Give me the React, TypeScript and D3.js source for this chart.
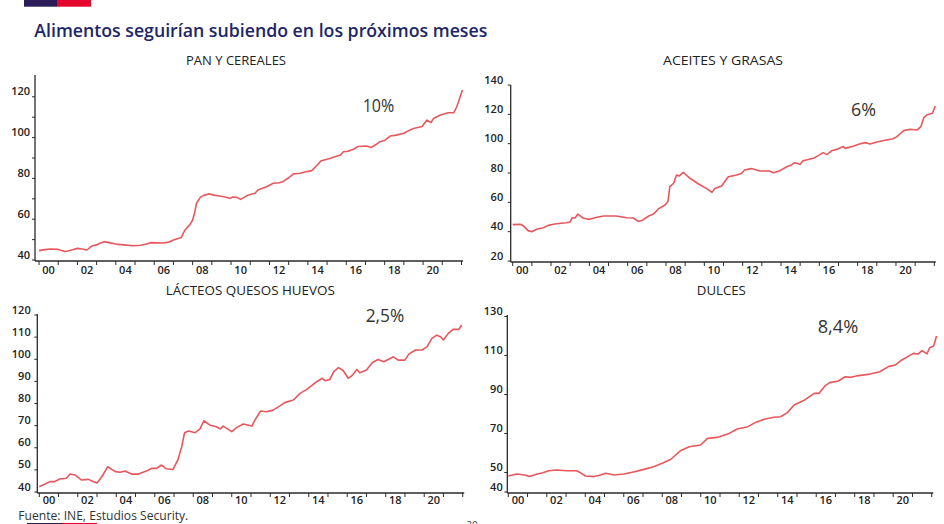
import React from "react";
import * as d3 from "d3";

const chartTitle = "Alimentos seguirían subiendo en los próximos meses";
const sourceText = "Fuente: INE, Estudios Security.";
const yearLabels = ["00", "02", "04", "06", "08", "10", "12", "14", "16", "18", "20"];

const panCereales: [number, number][] = [
  [2000.0, 44.6], [2000.3, 45.1], [2000.6, 45.4], [2001.0, 45.2], [2001.35, 44.2], [2001.5, 44.4],
  [2001.75, 45.0], [2002.0, 45.7], [2002.25, 45.4], [2002.5, 44.9], [2002.75, 46.9], [2003.0, 47.4],
  [2003.2, 48.3], [2003.4, 49.0], [2003.7, 48.4], [2004.0, 47.8], [2004.4, 47.4], [2004.9, 47.0],
  [2005.3, 47.2], [2005.6, 47.8], [2005.8, 48.5], [2006.5, 48.3], [2006.8, 48.9], [2007.0, 49.8],
  [2007.4, 51.0], [2007.6, 54.7], [2007.85, 57.2], [2008.0, 59.6], [2008.1, 63.0], [2008.2, 67.8],
  [2008.4, 70.7], [2008.6, 71.8], [2008.9, 72.4], [2009.1, 71.8], [2009.4, 71.4], [2009.7, 70.9],
  [2009.95, 70.2], [2010.1, 70.9], [2010.3, 70.7], [2010.5, 69.7], [2010.7, 70.8], [2010.9, 71.9],
  [2011.25, 72.7], [2011.4, 74.3], [2011.6, 75.0], [2011.85, 75.9], [2012.2, 77.6], [2012.5, 77.9],
  [2012.7, 78.4], [2013.0, 80.3], [2013.25, 82.2], [2013.6, 82.5], [2013.9, 83.3], [2014.2, 83.8],
  [2014.45, 86.2], [2014.7, 88.7], [2015.15, 89.8], [2015.4, 90.6], [2015.7, 91.5], [2015.85, 93.1],
  [2016.1, 93.3], [2016.4, 94.4], [2016.6, 95.6], [2017.05, 95.9], [2017.3, 95.2], [2017.55, 96.6],
  [2017.75, 98.0], [2018.0, 98.6], [2018.3, 100.8], [2018.6, 101.2], [2019.0, 102.1], [2019.25, 103.4],
  [2019.5, 104.5], [2019.95, 105.4], [2020.2, 108.6], [2020.4, 107.3], [2020.55, 109.4], [2020.9, 111.1],
  [2021.3, 112.2], [2021.6, 112.2], [2021.75, 115.0], [2021.9, 119.2], [2022.05, 123.3],
];

const aceitesGrasas: [number, number][] = [
  [2000.0, 44.8], [2000.4, 45.0], [2000.55, 44.1], [2000.8, 40.7], [2001.0, 40.0], [2001.25, 41.6],
  [2001.6, 42.7], [2001.85, 44.3], [2002.2, 45.2], [2002.65, 45.9], [2002.8, 46.1], [2003.0, 46.6],
  [2003.1, 49.5], [2003.25, 49.3], [2003.4, 52.0], [2003.7, 49.1], [2004.0, 48.4], [2004.4, 49.8],
  [2004.75, 50.7], [2005.4, 50.7], [2005.95, 49.5], [2006.3, 49.3], [2006.55, 47.0], [2006.8, 48.0],
  [2007.1, 50.7], [2007.35, 52.0], [2007.6, 55.5], [2007.95, 58.2], [2008.1, 60.5], [2008.2, 70.7],
  [2008.4, 73.0], [2008.55, 78.6], [2008.7, 78.0], [2008.9, 80.5], [2009.25, 76.4], [2009.7, 72.5],
  [2010.1, 69.5], [2010.4, 66.8], [2010.55, 69.5], [2010.9, 71.1], [2011.25, 77.5], [2011.7, 78.6],
  [2011.95, 79.8], [2012.1, 82.0], [2012.45, 83.0], [2012.9, 81.4], [2013.4, 81.4], [2013.6, 80.2],
  [2013.95, 81.6], [2014.3, 84.3], [2014.55, 85.5], [2014.7, 87.0], [2015.0, 85.9], [2015.15, 88.4],
  [2015.7, 90.0], [2016.05, 92.7], [2016.2, 93.9], [2016.4, 92.5], [2016.65, 95.2], [2016.9, 96.1],
  [2017.25, 98.0], [2017.35, 96.8], [2017.8, 98.4], [2018.1, 99.8], [2018.4, 100.7], [2018.65, 99.8],
  [2019.0, 101.1], [2019.5, 102.5], [2019.85, 103.4], [2020.05, 104.8], [2020.2, 106.6], [2020.4, 108.9],
  [2020.75, 109.8], [2021.1, 109.3], [2021.3, 111.6], [2021.45, 117.7], [2021.6, 119.5], [2021.9, 120.7],
  [2022.05, 125.7],
];

const lacteosQuesosHuevos: [number, number][] = [
  [2000.0, 42.4], [2000.3, 43.6], [2000.55, 44.7], [2000.8, 44.7], [2001.05, 45.9], [2001.4, 46.2],
  [2001.6, 48.1], [2001.85, 47.7], [2002.2, 45.4], [2002.55, 45.7], [2002.8, 44.7], [2003.0, 44.1],
  [2003.25, 46.9], [2003.55, 51.4], [2003.95, 49.2], [2004.2, 48.9], [2004.45, 49.5], [2004.8, 48.1],
  [2005.15, 48.1], [2005.6, 49.6], [2005.85, 50.7], [2006.1, 50.7], [2006.35, 52.2], [2006.6, 50.5],
  [2006.95, 50.2], [2007.2, 54.5], [2007.4, 60.5], [2007.55, 66.8], [2007.75, 67.6], [2008.1, 66.8],
  [2008.35, 68.5], [2008.55, 72.2], [2008.85, 70.3], [2009.2, 69.5], [2009.4, 68.5], [2009.55, 69.8],
  [2010.0, 67.3], [2010.25, 69.1], [2010.6, 70.7], [2011.05, 69.8], [2011.2, 72.5], [2011.5, 76.6],
  [2011.8, 76.3], [2012.15, 77.0], [2012.5, 78.9], [2012.75, 80.4], [2013.2, 81.6], [2013.55, 84.6],
  [2013.9, 86.4], [2014.25, 88.8], [2014.5, 90.3], [2014.7, 91.4], [2014.85, 90.3], [2015.1, 90.9],
  [2015.3, 94.4], [2015.55, 96.2], [2015.8, 94.8], [2016.05, 91.4], [2016.25, 92.6], [2016.5, 95.4],
  [2016.65, 93.9], [2017.0, 95.1], [2017.3, 98.4], [2017.6, 99.9], [2017.9, 98.9], [2018.4, 101.1],
  [2018.65, 99.6], [2019.0, 99.6], [2019.2, 102.3], [2019.55, 104.2], [2019.9, 104.2], [2020.15, 105.7],
  [2020.4, 109.4], [2020.65, 110.9], [2020.85, 110.2], [2021.0, 108.7], [2021.25, 111.7], [2021.5, 113.5],
  [2021.8, 113.5], [2021.95, 115.5],
];

const dulces: [number, number][] = [
  [2000.0, 48.2], [2000.45, 49.2], [2000.85, 48.7], [2001.1, 47.9], [2001.5, 49.2], [2001.8, 49.9],
  [2002.1, 50.9], [2002.5, 51.3], [2003.05, 50.9], [2003.55, 50.9], [2003.75, 49.9], [2004.0, 48.2],
  [2004.45, 47.9], [2004.8, 48.7], [2005.05, 49.6], [2005.5, 48.7], [2006.0, 49.2], [2006.5, 50.3],
  [2007.05, 51.6], [2007.55, 53.0], [2008.0, 54.7], [2008.45, 56.8], [2008.95, 61.2], [2009.4, 63.2],
  [2010.0, 64.1], [2010.35, 67.5], [2010.85, 68.0], [2011.4, 69.7], [2011.9, 72.3], [2012.45, 73.5],
  [2012.85, 75.7], [2013.3, 77.3], [2013.8, 78.3], [2014.15, 78.6], [2014.5, 80.7], [2014.85, 84.6],
  [2015.4, 87.2], [2015.9, 90.6], [2016.15, 90.6], [2016.45, 94.4], [2016.7, 96.1], [2017.15, 96.9],
  [2017.5, 99.1], [2017.8, 98.8], [2018.2, 99.7], [2018.7, 100.3], [2019.3, 101.7], [2019.75, 104.3],
  [2020.1, 105.1], [2020.45, 107.7], [2020.8, 109.7], [2021.05, 111.1], [2021.3, 110.8], [2021.5, 112.5],
  [2021.75, 110.8], [2021.9, 114.0], [2022.1, 114.9], [2022.25, 120.0],
];

const panelTitles = ["PAN Y CEREALES", "ACEITES Y GRASAS", "LÁCTEOS QUESOS HUEVOS", "DULCES"];
const panelAnnotations = ["10%", "6%", "2,5%", "8,4%"];
const panTicks = [40, 50, 60, 70, 80, 90, 100, 110, 120];
const panLabels = [40, 60, 80, 100, 120];
const aceitesTicks = [20, 40, 60, 80, 100, 120, 140];
const lacteosTicks = [40, 50, 60, 70, 80, 90, 100, 110, 120];
const dulcesTicks = [40, 50, 70, 90, 110, 130];

const LINE = "#e8575c";
const AXIS = "#2b2b2b";
const TEXT = "#222";
const TICK_FONT = "'Open Sans', sans-serif";

type Panel = {
  title: string; titleX: number; titleY: number; titleW: number;
  note: string; noteX: number; noteY: number; noteW: number;
  data: [number, number][];
  x0: number; x1: number; yBottom: number; yTop: number; domain: [number, number];
  axisX: number; axisTop: number; ticks: number[]; labels: number[]; labelGap: number; xLabelY: number;
};

const panels: Panel[] = [
  { title: panelTitles[0], titleX: 236, titleY: 65, titleW: 100, note: panelAnnotations[0], noteX: 362.7, noteY: 112, noteW: 31.6,
    data: panCereales, x0: 39, x1: 461.5, yBottom: 260, yTop: 76.4, domain: [40, 130],
    axisX: 35, axisTop: 75, ticks: panTicks, labels: panLabels, labelGap: 5, xLabelY: 273.5 },
  { title: panelTitles[1], titleX: 723, titleY: 65, titleW: 120, note: panelAnnotations[1], noteX: 851, noteY: 116, noteW: 25,
    data: aceitesGrasas, x0: 512.7, x1: 934.3, yBottom: 261, yTop: 85, domain: [20, 140],
    axisX: 510.7, axisTop: 85, ticks: aceitesTicks, labels: aceitesTicks, labelGap: 7.5, xLabelY: 274 },
  { title: panelTitles[2], titleX: 250.3, titleY: 295, titleW: 169, note: panelAnnotations[2], noteX: 365.7, noteY: 322, noteW: 38.6,
    data: lacteosQuesosHuevos, x0: 39.3, x1: 462.7, yBottom: 492, yTop: 315, domain: [40, 120],
    axisX: 37.3, axisTop: 314, ticks: lacteosTicks, labels: lacteosTicks, labelGap: 6.6, xLabelY: 504 },
  { title: panelTitles[3], titleX: 721.3, titleY: 295, titleW: 49, note: panelAnnotations[3], noteX: 817.7, noteY: 333, noteW: 40.6,
    data: dulces, x0: 508.3, x1: 931.7, yBottom: 492, yTop: 316.5, domain: [40, 130],
    axisX: 507.3, axisTop: 315, ticks: dulcesTicks, labels: dulcesTicks, labelGap: 4.6, xLabelY: 504 },
];

function PanelView({ p }: { p: Panel }) {
  const x = d3.scaleLinear().domain([2000, 2022]).range([p.x0, p.x1]);
  const y = d3.scaleLinear().domain(p.domain).range([p.yBottom, p.yTop]);
  const line = d3.line<[number, number]>().x((d) => x(d[0])).y((d) => y(d[1])).curve(d3.curveLinear);
  const years = d3.range(2000, 2023);
  const axisY = p.yBottom + 1;
  return (
    <g>
      <text x={p.titleX} y={p.titleY} textAnchor="middle" fontFamily={TICK_FONT} fontSize={12} fill={TEXT}
        textLength={p.titleW} lengthAdjust="spacingAndGlyphs">{p.title}</text>
      <line x1={p.axisX} x2={p.axisX} y1={p.axisTop} y2={axisY} stroke={AXIS} strokeWidth={1.3} />
      <line x1={p.axisX} x2={x(2022) + 1.5} y1={axisY} y2={axisY} stroke={AXIS} strokeWidth={1.3} />
      {p.ticks.map((t) => (
        <line key={"yt" + t} x1={p.axisX - 3} x2={p.axisX} y1={y(t)} y2={y(t)} stroke={AXIS} strokeWidth={1} />
      ))}
      {p.labels.map((t) => (
        <text key={"yl" + t} x={p.axisX - p.labelGap} y={y(t) - 1.5} textAnchor="end" fontFamily={TICK_FONT}
          fontWeight={600} fontSize={11} fill={TEXT}>{t}</text>
      ))}
      {years.map((yr) => (
        <line key={"xt" + yr} x1={x(yr)} x2={x(yr)} y1={axisY} y2={axisY + 4} stroke={AXIS} strokeWidth={1} />
      ))}
      {yearLabels.map((lab, i) => (
        <text key={"xl" + lab} x={x(2000 + i * 2 + 0.5)} y={p.xLabelY} textAnchor="middle" fontFamily={TICK_FONT}
          fontWeight={600} fontSize={11} fill={TEXT}>{lab}</text>
      ))}
      <path d={line(p.data) || ""} fill="none" stroke={LINE} strokeWidth={1.6} strokeLinejoin="round" />
      <text x={p.noteX} y={p.noteY} fontFamily={TICK_FONT} fontSize={19} fill="#333"
        textLength={p.noteW} lengthAdjust="spacingAndGlyphs">{p.note}</text>
    </g>
  );
}

export default function App() {
  return (
    <svg width={944} height={524} style={{ position: "absolute", left: 0, top: 0, background: "#fff" }}>
      <rect x={0} y={0} width={944} height={524} fill="#fff" />
      <rect x={24} y={0} width={33} height={6.7} fill="#2a1d57" />
      <rect x={57} y={0} width={34} height={6.7} fill="#e5062d" />
      <text x={34.3} y={37.3} fontFamily={TICK_FONT} fontWeight={600} fontSize={18} fill="#1c2768"
        textLength={453} lengthAdjust="spacingAndGlyphs">{chartTitle}</text>
      {panels.map((p, i) => <PanelView key={i} p={p} />)}
      <text x={18.3} y={520} fontFamily={TICK_FONT} fontSize={12.5} fill="#333"
        textLength={170} lengthAdjust="spacingAndGlyphs">{sourceText}</text>
      <rect x={27} y={523} width={35} height={1} fill="#2a1d57" />
      <rect x={62} y={523} width={35} height={1} fill="#e5062d" />
      <text x={472} y={529} textAnchor="middle" fontFamily={TICK_FONT} fontSize={10} fill="#444">20</text>
    </svg>
  );
}
